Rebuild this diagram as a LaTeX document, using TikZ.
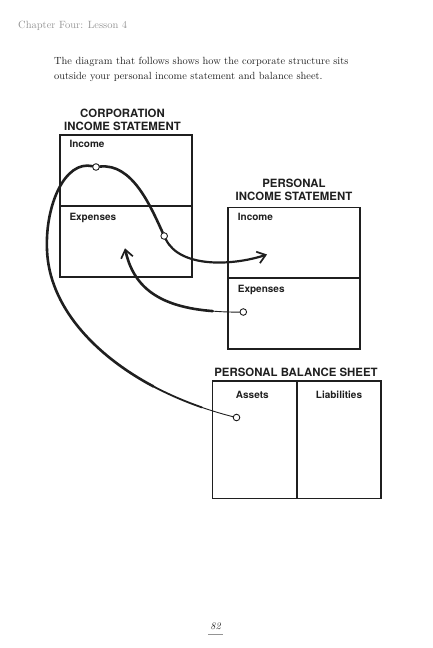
\documentclass[tikz,border=0pt]{standalone}
\usepackage{fontspec}
\newfontfamily\sansfam{TeX Gyre Heros}
\usetikzlibrary{arrows.meta}
\pgfdeclarelayer{frames}
\pgfdeclarelayer{flows}
\pgfsetlayers{frames,flows,main}
\definecolor{headgray}{gray}{0.58}
\definecolor{ink}{gray}{0.12}

\begin{document}
\begin{tikzpicture}[x=1pt,y=-1pt,
  frame/.style={draw=ink, line width=1.5pt, inner sep=0pt, rectangle},
  heading/.style={font=\sansfam\bfseries\fontsize{11.4}{13}\selectfont, anchor=base, inner sep=0pt, text=ink},
  field/.style={font=\sansfam\bfseries\fontsize{10}{11}\selectfont, inner sep=0pt, text=ink},
  body/.style={font=\fontsize{10.4}{12}\selectfont, anchor=base west, inner sep=0pt, text=ink},
  dot/.style={circle, draw=ink, fill=white, line width=0.9pt, minimum size=6.6pt, inner sep=0pt},
  flow/.style={draw=ink, line width=2.6pt, line cap=round},
  midflow/.style={draw=ink, line width=1.8pt, line cap=round},
  thinflow/.style={draw=ink, line width=0.9pt, line cap=round},
  barb/.style={-{Straight Barb[length=8pt,width=12pt,line width=1.7pt]}}
]
\useasboundingbox (0,0) rectangle (432,648);

% running head and introductory sentence
\node[body, font=\fontsize{10.5}{12}\selectfont, text=headgray] (runhead) at (18,28) {Chapter Four: Lesson 4};
\node[body] (intro1) at (54,64.5) {The diagram that follows shows how the corporate structure sits};
\node[body] (intro2) at (54,79.5) {outside your personal income statement and balance sheet.};

% the three statements
\begin{pgfonlayer}{frames}
  \node[frame, minimum width=132pt, minimum height=142pt] (corp) at (126,206) {};
  \draw[ink, line width=1.5pt] (corp.west) -- (corp.east);
  \node[frame, minimum width=132.3pt, minimum height=141.7pt] (pers) at (293.9,278.2) {};
  \draw[ink, line width=1.5pt] (pers.west) -- (pers.east);
  \node[frame, minimum width=168.3pt, minimum height=117.3pt] (bal) at (296.85,439.65) {};
  \draw[ink, line width=1.5pt] (bal.north) -- (bal.south);
\end{pgfonlayer}

\node[heading] (corpt1) at (122.5,117) {CORPORATION};
\node[heading] (corpt2) at (122.5,130.2) {INCOME STATEMENT};
\node[heading] (perst1) at (294,187.5) {PERSONAL};
\node[heading] (perst2) at (294,200.8) {INCOME STATEMENT};
\node[heading] (balt) at (296,376.6) {PERSONAL BALANCE SHEET};

\node[field, anchor=base west] (corpinc) at (69.3,147.6) {Income};
\node[field, anchor=base west] (corpexp) at (69.3,220.6) {Expenses};
\node[field, anchor=base west] (persinc) at (237.7,220) {Income};
\node[field, anchor=base west] (persexp) at (237.7,292) {Expenses};
\node[field, anchor=base] (assets) at (252.3,398.6) {Assets};
\node[field, anchor=base] (liab) at (339,398.6) {Liabilities};

% junction points of the money flows
\node[dot] (ctop) at (96,167) {};
\node[dot] (cexp) at (164.2,236) {};
\node[dot] (pexp) at (243.3,312) {};
\node[dot] (asset) at (236.5,417.5) {};

\coordinate (loop) at (47,250);
\coordinate (taper) at (153.4,386.4);
\coordinate (taper2) at (201.9,407.4);
\coordinate (pstart) at (212.7,311.1);
\coordinate (corptip) at (125,248.3);
\coordinate (perstip) at (267,254.5);

\begin{pgfonlayer}{flows}
  % corporate income paid out to personal income
  \draw[flow] (ctop) .. controls (132,163) and (150,205) .. (cexp);
  \draw[flow, line width=2.2pt, barb] (cexp) .. controls (180,268) and (232,266) .. (perstip);
  % corporate income looping down into personal assets, thinning as it goes
  \draw[flow] (ctop) .. controls (65,160) and (45,205) .. (loop);
  \draw[flow] (loop) .. controls (49.1,306) and (93.8,354.7) .. (taper);
  \draw[midflow] (taper) .. controls (168.7,394.5) and (185,401.5) .. (taper2);
  \draw[thinflow] (taper2) .. controls (213.2,411.3) and (224.8,414.7) .. (asset);
  % personal expenses paid back through the corporation
  \draw[thinflow] (pexp) .. controls (232,312.2) and (222,311.9) .. (pstart);
  \draw[flow, barb] (pstart) .. controls (160.1,307) and (133.5,288) .. (corptip);
\end{pgfonlayer}

% folio
\node[font=\itshape\fontsize{10}{12}\selectfont, inner sep=0pt, text=ink] (folio) at (215.5,626) {82};
\draw[headgray, line width=0.5pt] (208.3,634) -- (223.3,634);
\end{tikzpicture}
\end{document}
